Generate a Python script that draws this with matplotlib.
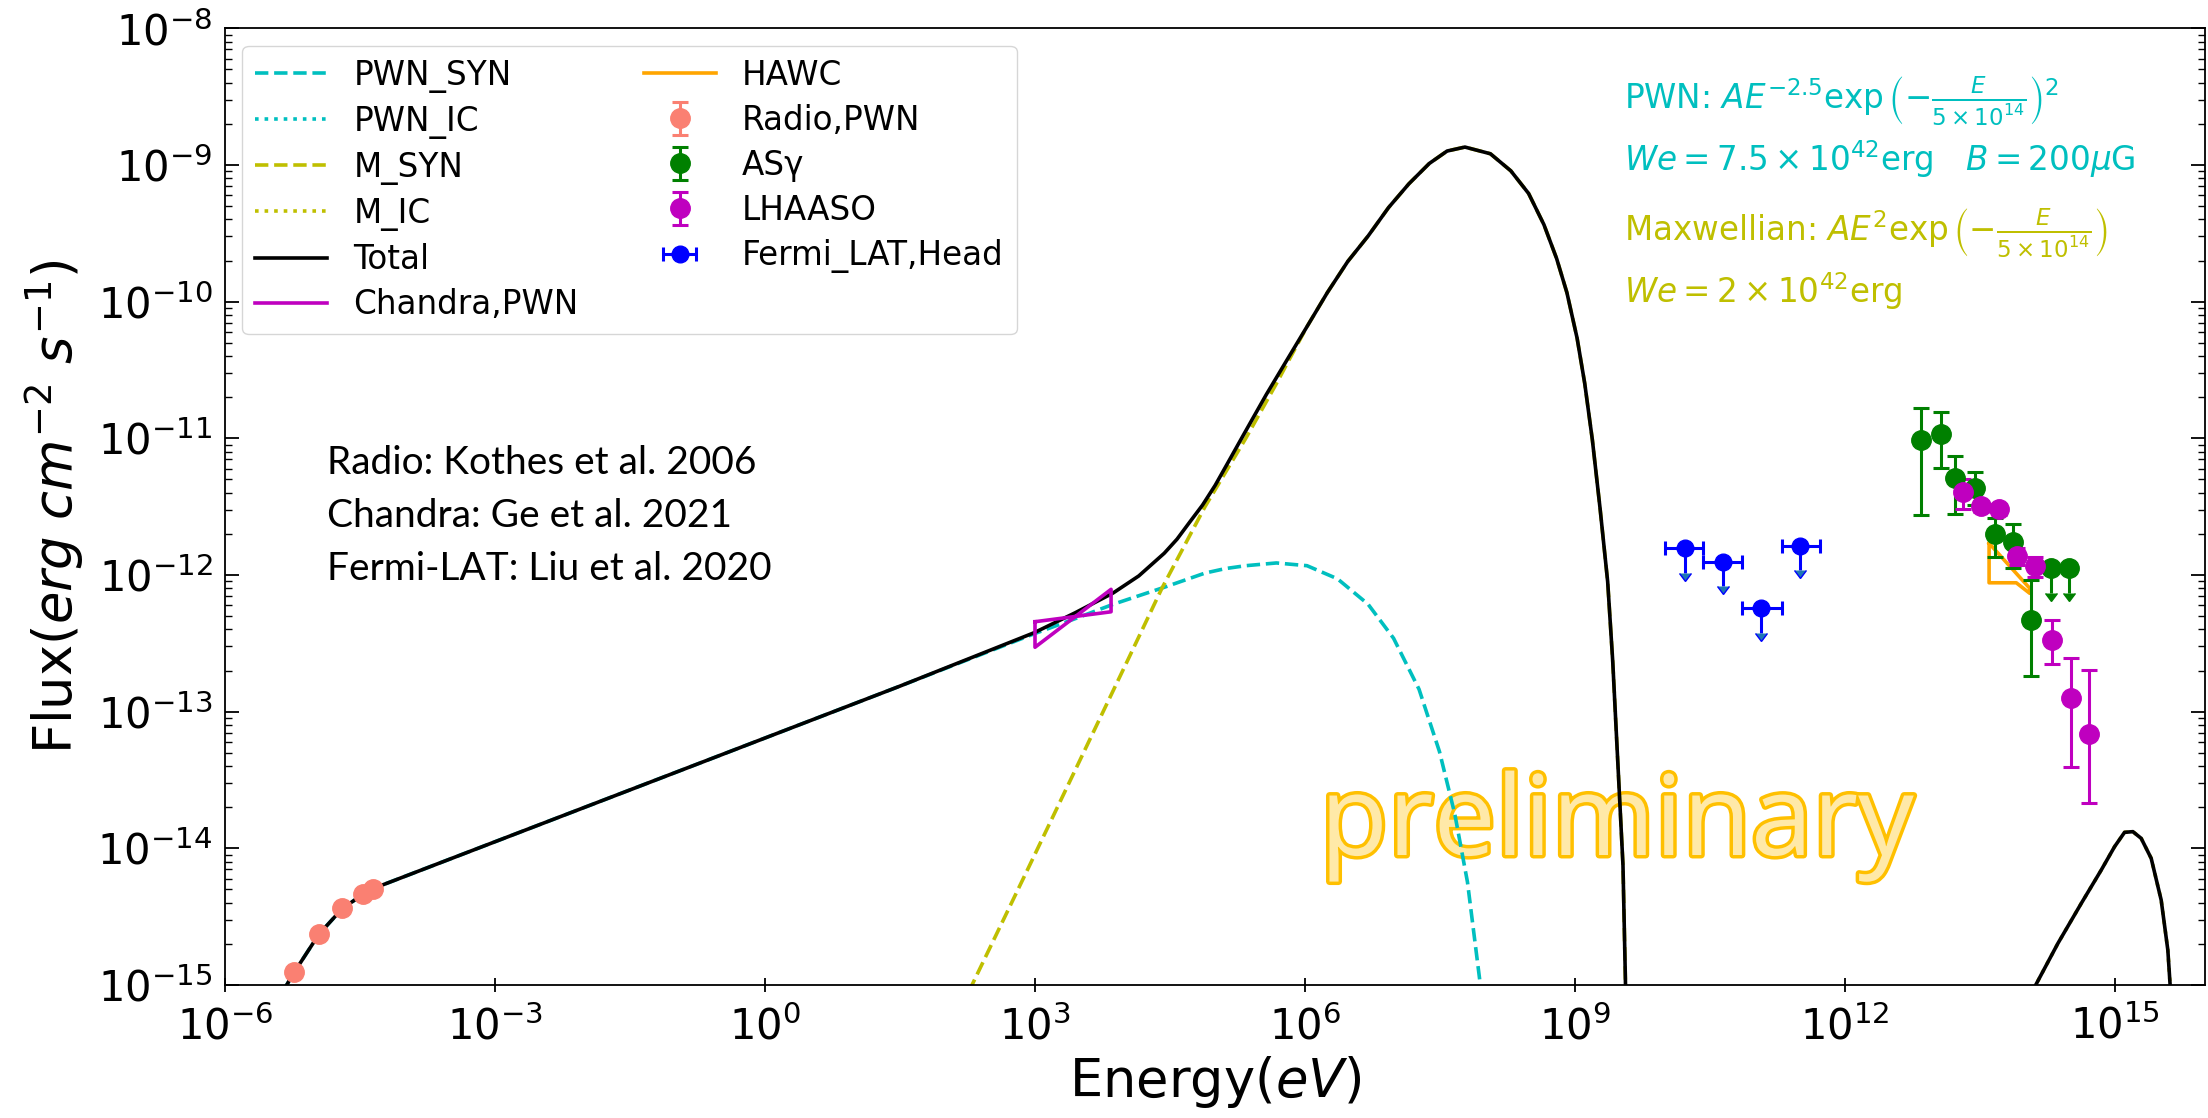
import numpy as np
import matplotlib
matplotlib.use("Agg")
import matplotlib.pyplot as plt
import matplotlib.patheffects as pe
from matplotlib.ticker import NullLocator, LogLocator

# ---------------- data (log10 of energy [eV] and flux [erg cm^-2 s^-1]) ----------------
pwn_syn_logE = [-5.36, -5.231, -4.957, -4.694, -4.465, -4.25, -0.636, 1.492, 2.992, 3.445,
                3.870, 4.153, 4.436, 4.889, 5.116, 5.342, 5.682, 6.022, 6.361, 6.701,
                6.984, 7.267, 7.494, 7.664, 7.805, 7.947, 7.98]
pwn_syn_logF = [-15.05, -14.907, -14.629, -14.439, -14.336, -14.268, -13.354, -12.815, -12.43, -12.32,
                -12.214, -12.152, -12.090, -11.986, -11.953, -11.932, -11.912, -11.932, -12.028, -12.214,
                -12.463, -12.836, -13.292, -13.748, -14.246, -14.992, -15.2]

pwn_ic_logE = []
pwn_ic_logF = []

m_syn_logE = [2.27, 2.30, 2.907, 3.474, 4.040, 4.408, 4.889, 5.342, 5.682, 5.795,
              6.022, 6.248, 6.475, 6.701, 6.928, 7.154, 7.381, 7.579, 7.777, 8.060,
              8.287, 8.485, 8.655, 8.796, 8.910, 9.023, 9.108, 9.193, 9.278, 9.363,
              9.419, 9.476, 9.533, 9.561, 9.58]
m_syn_logF = [-15.05, -15.0, -14.17, -13.39, -12.61, -12.10, -11.50, -11.0, -10.60, -10.46,
              -10.183, -9.934, -9.706, -9.520, -9.312, -9.138, -8.989, -8.898, -8.869, -8.918,
              -9.043, -9.209, -9.437, -9.685, -9.934, -10.266, -10.598, -11.012, -11.510, -12.049,
              -12.629, -13.375, -14.122, -14.992, -15.3]

m_ic_logE = [14.05, 14.115, 14.366, 14.625, 14.847, 14.995, 15.106, 15.199, 15.291, 15.402,
             15.513, 15.587, 15.613, 15.63]
m_ic_logF = [-15.1, -15.005, -14.695, -14.403, -14.159, -13.988, -13.883, -13.878, -13.927, -14.073,
             -14.378, -14.744, -15.005, -15.2]

total_logE = [-5.36, -5.231, -4.957, -4.694, -4.465, -4.25, -0.636, 1.492, 2.992, 3.445,
              3.870, 4.153, 4.436, 4.578, 4.719, 4.861, 5.002, 5.144, 5.285, 5.427,
              5.569, 5.795, 6.022, 6.248, 6.475, 6.701, 6.928, 7.154, 7.381, 7.579,
              7.777, 8.060, 8.287, 8.485, 8.655, 8.796, 8.910, 9.023, 9.108, 9.193,
              9.278, 9.363, 9.419, 9.476, 9.533, 9.561, 9.58, np.nan,
              14.05, 14.115, 14.366, 14.625, 14.847, 14.995, 15.106, 15.199, 15.291, 15.402,
              15.513, 15.587, 15.613, 15.63]
total_logF = [-15.05, -14.907, -14.629, -14.439, -14.336, -14.268, -13.354, -12.815, -12.422, -12.277,
              -12.131, -12.007, -11.841, -11.738, -11.613, -11.489, -11.344, -11.178, -11.012, -10.846,
              -10.681, -10.432, -10.183, -9.934, -9.706, -9.520, -9.312, -9.138, -8.989, -8.898,
              -8.869, -8.918, -9.043, -9.209, -9.437, -9.685, -9.934, -10.266, -10.598, -11.012,
              -11.510, -12.049, -12.629, -13.375, -14.122, -14.992, -15.3, np.nan,
              -15.1, -15.005, -14.695, -14.403, -14.159, -13.988, -13.883, -13.878, -13.927, -14.073,
              -14.378, -14.744, -15.005, -15.2]

# Chandra butterfly (1-7 keV)
chandra_E = [1.0e3, 7.0e3, 7.0e3, 1.0e3, 1.0e3]
chandra_F = [4.55e-13, 5.38e-13, 7.85e-13, 2.96e-13, 4.55e-13]

# HAWC outline
hawc_E = [3.99e13, 1.127e14, 1.127e14, 8.0e13, 3.99e13, 3.99e13]
hawc_F = [1.706e-12, 8.0e-13, 7.35e-13, 8.77e-13, 8.77e-13, 1.706e-12]

# Radio
radio_E = [5.87e-6, 1.104e-5, 2.02e-5, 3.43e-5, 4.36e-5]
radio_F = [1.24e-15, 2.35e-15, 3.64e-15, 4.61e-15, 5.01e-15]
radio_err = [0.05e-15, 0.1e-15, 0.15e-15, 0.2e-15, 0.2e-15]

# Tibet AS-gamma
asg_E = [6.95e12, 1.159e13, 1.66e13, 2.81e13, 4.61e13, 7.36e13, 1.156e14]
asg_F = [9.72e-12, 1.076e-11, 5.15e-12, 4.31e-12, 2.00e-12, 1.73e-12, 4.69e-13]
asg_err_lo = [6.97e-12, 4.72e-12, 2.37e-12, 1.07e-12, 0.64e-12, 0.6e-12, 2.87e-13]
asg_err_hi = [6.9e-12, 4.73e-12, 2.28e-12, 1.33e-12, 0.6e-12, 0.62e-12, 4.49e-13]
asg_ul_E = [1.93e14, 3.05e14]
asg_ul_F = [1.12e-12, 1.12e-12]

# LHAASO
lhaaso_E = [2.05e13, 3.22e13, 5.11e13, 8.15e13, 1.279e14, 2.01e14, 3.21e14, 5.14e14]
lhaaso_F = [4.06e-12, 3.20e-12, 3.03e-12, 1.384e-12, 1.164e-12, 3.34e-13, 1.253e-13, 6.85e-14]
lhaaso_err_lo = [1.0e-12, 0.3e-12, 0.3e-12, 0.2e-12, 0.2e-12, 1.11e-13, 8.6e-14, 4.7e-14]
lhaaso_err_hi = [1.0e-12, 0.3e-12, 0.3e-12, 0.2e-12, 0.2e-12, 1.35e-13, 1.2e-13, 1.33e-13]

# Fermi-LAT upper limits
fermi_E = [1.67e10, 4.37e10, 1.18e11, 3.16e11]
fermi_E_lo = [1.0e10, 2.67e10, 7.11e10, 1.97e11]
fermi_E_hi = [2.67e10, 7.11e10, 1.97e11, 5.26e11]
fermi_F = [1.567e-12, 1.250e-12, 5.70e-13, 1.637e-12]

# axis ticks
x_ticks = [1e-6, 1e-3, 1e0, 1e3, 1e6, 1e9, 1e12, 1e15]
y_ticks = [1e-15, 1e-14, 1e-13, 1e-12, 1e-11, 1e-10, 1e-9, 1e-8]

# ---------------- figure ----------------
W, H = 2208, 1118
fig = plt.figure(figsize=(W / 100, H / 100), dpi=100)
ax = fig.add_axes([225 / W, 1 - 985 / H, (2205 - 225) / W, (985 - 28.3) / H])


def lin(v):
    return np.power(10.0, np.asarray(v, dtype=float))


lw = 2.6
l1, = ax.plot(lin(pwn_syn_logE), lin(pwn_syn_logF), color='c', ls='--', lw=lw, label='PWN_SYN')
l2, = ax.plot(lin(pwn_ic_logE), lin(pwn_ic_logF), color='c', ls=':', lw=lw, label='PWN_IC')
l3, = ax.plot(lin(m_syn_logE), lin(m_syn_logF), color='y', ls='--', lw=lw, label='M_SYN')
l4, = ax.plot(lin(m_ic_logE), lin(m_ic_logF), color='y', ls=':', lw=lw, label='M_IC')
l5, = ax.plot(lin(total_logE), lin(total_logF), color='k', ls='-', lw=lw, label='Total')
l6, = ax.plot(chandra_E, chandra_F, color='m', lw=lw, label='Chandra,PWN')
l7, = ax.plot(hawc_E, hawc_F, color='orange', lw=lw, label='HAWC')

eb = dict(fmt='o', ms=14, capsize=6, elinewidth=2.2, capthick=2.2)
h_radio = ax.errorbar(radio_E, radio_F, yerr=radio_err, color='salmon', label='Radio,PWN', **eb)
h_asg = ax.errorbar(asg_E, asg_F, yerr=[asg_err_lo, asg_err_hi], color='g', label='AS\u03b3', **eb)
asg_ul_F_arr = np.array(asg_ul_F)
ax.errorbar(asg_ul_E, asg_ul_F, yerr=[asg_ul_F_arr * 0.34, asg_ul_F_arr * 0],
            uplims=True, fmt='o', ms=14, color='g', elinewidth=2.2, capsize=4)
h_lha = ax.errorbar(lhaaso_E, lhaaso_F, yerr=[lhaaso_err_lo, lhaaso_err_hi], color='m',
                    label='LHAASO', **eb)
fE = np.array(fermi_E)
h_fermi = ax.errorbar(fermi_E, fermi_F, xerr=[fE - np.array(fermi_E_lo), np.array(fermi_E_hi) - fE],
                      fmt='o', ms=12, color='b', capsize=5, elinewidth=2.2, capthick=2.2,
                      label='Fermi_LAT,Head')
fF = np.array(fermi_F)
ax.errorbar(fermi_E, fermi_F, yerr=[fF * 0.34, fF * 0], uplims=True, fmt='none',
            ecolor='b', elinewidth=2.2, capsize=4)

ax.set_xscale('log')
ax.set_yscale('log')
ax.set_xlim(1e-6, 1e16)
ax.set_ylim(1e-15, 1e-8)
ax.set_xticks(x_ticks)
ax.xaxis.set_minor_locator(NullLocator())
ax.set_yticks(y_ticks)
ax.yaxis.set_minor_locator(LogLocator(base=10, subs=np.arange(2, 10), numticks=50))

for s in ax.spines.values():
    s.set_linewidth(1.3)
ax.tick_params(axis='y', which='both', direction='in', right=True, labelsize=30, pad=9)
ax.tick_params(axis='y', which='minor', labelleft=False)
ax.tick_params(axis='y', which='major', length=10, width=1.3)
ax.tick_params(axis='y', which='minor', length=5, width=1.0)
ax.tick_params(axis='x', which='major', direction='inout', length=10, width=1.3,
               labelsize=30, pad=10)

ax.set_xlabel(r'Energy($eV$)', fontsize=38, labelpad=4)
ax.set_ylabel(r'Flux($erg\ cm^{-2}\ s^{-1}$)', fontsize=38, labelpad=8)

leg = ax.legend(handles=[l1, l2, l3, l4, l5, l6, l7, h_radio, h_asg, h_lha, h_fermi],
                ncol=2, loc='upper left', fontsize=23.5, handlelength=2.2,
                columnspacing=2.0, handletextpad=0.8, labelspacing=0.37,
                borderaxespad=0.53)

# model description texts
tx = 1624 / W
fs_m = 23.5
fig.text(tx, 1 - 109 / H, r'PWN: $AE^{-2.5}\exp\left(-\frac{E}{5\times10^{14}}\right)^2$',
         color='c', fontsize=fs_m, va='baseline')
fig.text(tx, 1 - 171 / H, r'$We=7.5\times10^{42}$erg   $B=200\mu$G',
         color='c', fontsize=fs_m, va='baseline')
fig.text(tx, 1 - 241 / H, r'Maxwellian: $AE^{2}\exp\left(-\frac{E}{5\times10^{14}}\right)$',
         color='y', fontsize=fs_m, va='baseline')
fig.text(tx, 1 - 303 / H, r'$We=2\times10^{42}$erg',
         color='y', fontsize=fs_m, va='baseline')

# references
ax_x = 327 / W
for yy, t in [(474, 'Radio: Kothes et al. 2006'),
              (527, 'Chandra: Ge et al. 2021'),
              (580, 'Fermi-LAT: Liu et al. 2020')]:
    fig.text(ax_x, 1 - yy / H, t, fontsize=28, family='Lato', color='black', va='baseline')

# watermark
ax.text(1320 / W, 1 - 855 / H, 'preliminary', transform=fig.transFigure, fontsize=80,
        family='Open Sans', color='#FFE9A8', va='baseline', zorder=1,
        path_effects=[pe.withStroke(linewidth=5, foreground='#FFC000')])

fig.savefig('out.png', dpi=100)
